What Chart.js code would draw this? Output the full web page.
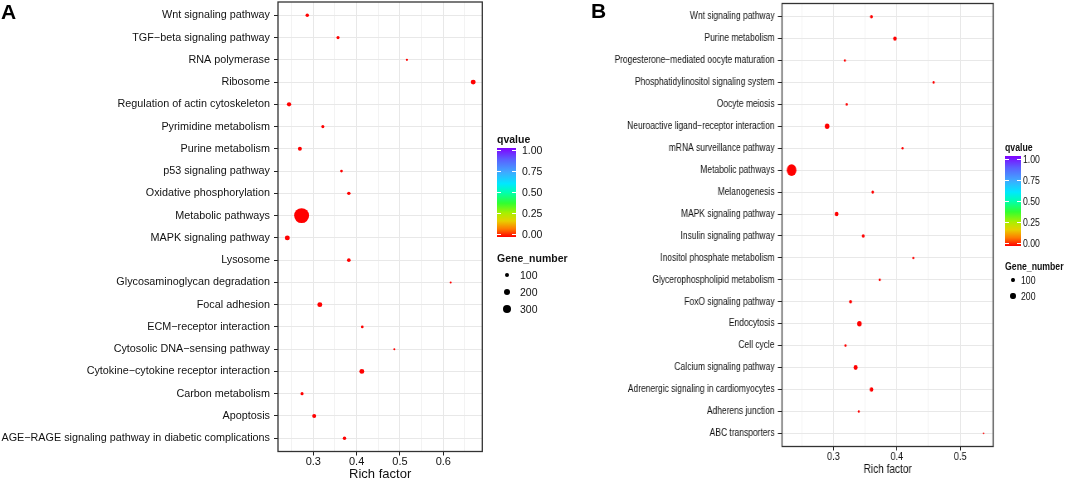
<!DOCTYPE html>
<html>
<head>
<meta charset="utf-8">
<script src="https://cdn.jsdelivr.net/npm/chart.js@4.4.1/dist/chart.umd.min.js"></script>
<style>
  body { margin: 0; background: #fff; width: 1065px; height: 481px; overflow: hidden; position: relative; font-family: 'Liberation Sans', Arial, sans-serif; color: #111; }
  canvas { position: absolute; top: 0; }
  #chartA { left: 0; }
  /* panel B of the figure is horizontally squeezed, like a narrow font */
  #chartB { left: 560px; transform: scaleX(0.83); transform-origin: 0 0; }
  .tag { position: absolute; font-weight: bold; font-size: 21px; line-height: 21px; color: #000; }
  .lg { position: absolute; white-space: nowrap; transform: translateY(-50%); line-height: 1; }
  .lg.b { transform: translateY(-50%) scaleX(0.83); transform-origin: 0 50%; }
  .bar { position: absolute; background: linear-gradient(to top, #ff0000 0%, #ff7a00 9%, #e8d000 18%, #a8f000 27%, #30ff30 38%, #00ffb0 50%, #00e8ff 60%, #40a8ff 73%, #5a60ff 87%, #8000ff 100%); }
  .mark { position: absolute; height: 1px; background: #fff; }
  .dot { position: absolute; background: #000; border-radius: 50%; }
</style>
</head>
<body>
<canvas id="chartA" width="560" height="481"></canvas>
<canvas id="chartB" width="608" height="481"></canvas>
<div class="tag" style="left:1px; top:1px;">A</div>
<div class="tag" style="left:591px; top:0px;">B</div>
<div id="legendA"></div>
<div id="legendB"></div>
<script>
// panel A
const pathwaysA = ['Wnt signaling pathway', 'TGF\u2212beta signaling pathway', 'RNA polymerase', 'Ribosome',
  'Regulation of actin cytoskeleton', 'Pyrimidine metabolism', 'Purine metabolism', 'p53 signaling pathway',
  'Oxidative phosphorylation', 'Metabolic pathways', 'MAPK signaling pathway', 'Lysosome',
  'Glycosaminoglycan degradation', 'Focal adhesion', 'ECM\u2212receptor interaction', 'Cytosolic DNA\u2212sensing pathway',
  'Cytokine\u2212cytokine receptor interaction', 'Carbon metabolism', 'Apoptosis',
  'AGE\u2212RAGE signaling pathway in diabetic complications'];
const richA = [0.286, 0.357, 0.516, 0.669, 0.244, 0.322, 0.269, 0.365, 0.382, 0.273,
  0.240, 0.382, 0.617, 0.315, 0.413, 0.487, 0.412, 0.274, 0.302, 0.372];
const genesA = [85, 75, 55, 130, 110, 75, 100, 65, 85, 680,
  130, 90, 50, 130, 65, 50, 130, 75, 100, 85];
const xTicksA = [0.3, 0.4, 0.5, 0.6];
const sizeBreaksA = [100, 200, 300];

// panel B
const pathwaysB = ['Wnt signaling pathway', 'Purine metabolism', 'Progesterone\u2212mediated oocyte maturation',
  'Phosphatidylinositol signaling system', 'Oocyte meiosis', 'Neuroactive ligand\u2212receptor interaction',
  'mRNA surveillance pathway', 'Metabolic pathways', 'Melanogenesis', 'MAPK signaling pathway',
  'Insulin signaling pathway', 'Inositol phosphate metabolism', 'Glycerophospholipid metabolism',
  'FoxO signaling pathway', 'Endocytosis', 'Cell cycle', 'Calcium signaling pathway',
  'Adrenergic signaling in cardiomyocytes', 'Adherens junction', 'ABC transporters'];
const richB = [0.360, 0.397, 0.318, 0.458, 0.321, 0.290, 0.409, 0.234, 0.362, 0.305,
  0.347, 0.426, 0.373, 0.327, 0.341, 0.319, 0.335, 0.360, 0.340, 0.537];
const genesB = [85, 110, 60, 65, 65, 150, 60, 450, 75, 120,
  85, 60, 65, 90, 150, 65, 130, 110, 60, 45];
const xTicksB = [0.3, 0.4, 0.5];
const sizeBreaksB = [100, 200];

const qTicks = [0, 0.25, 0.5, 0.75, 1];

const SQUEEZE = 0.83;

// dot radius in px from gene count
function sizeOf(n) {
  return Math.max(0.9, 0.34 * Math.sqrt(n) - 1.4);
}

const frame = {
  id: 'frame',
  afterDraw(chart) {
    const a = chart.chartArea, c = chart.ctx;
    c.save();
    c.strokeStyle = '#333';
    c.lineWidth = 1.3;
    c.strokeRect(a.left, a.top, a.right - a.left, a.bottom - a.top);
    c.restore();
  }
};

const isMajor = v => Math.abs(v * 10 - Math.round(v * 10)) < 1e-6;

function noMargins(ax) {
  ax.paddingTop = 0; ax.paddingBottom = 0; ax.paddingLeft = 0; ax.paddingRight = 0;
}

function makeChart(id, o) {
  const n = o.labels.length;
  return new Chart(document.getElementById(id), {
    type: 'scatter',
    data: {
      datasets: [{
        data: o.rich.map((x, i) => ({ x: x, y: i })),
        pointRadius: ctx => sizeOf(o.genes[ctx.dataIndex]),
        pointHoverRadius: ctx => sizeOf(o.genes[ctx.dataIndex]),
        backgroundColor: '#ff0000',
        borderWidth: 0
      }]
    },
    options: {
      responsive: false,
      animation: false,
      events: [],
      layout: { autoPadding: false, padding: { top: o.top, right: o.right, bottom: 0, left: 0 } },
      plugins: { legend: { display: false }, tooltip: { enabled: false } },
      scales: {
        x: {
          type: 'linear',
          min: o.xMin,
          max: o.xMax,
          afterBuildTicks: ax => {
            const minor = o.xTicks.map(v => v - 0.05).concat([o.xTicks[o.xTicks.length - 1] + 0.05])
              .filter(v => v > o.xMin && v < o.xMax);
            ax.ticks = o.xTicks.concat(minor).sort((a, b) => a - b).map(v => ({ value: v }));
          },
          afterFit: ax => { ax.height = 481 - o.bottom; noMargins(ax); },
          border: { display: false },
          grid: {
            color: ctx => isMajor(ctx.tick.value) ? '#e8e8e8' : '#f3f3f3',
            tickColor: ctx => isMajor(ctx.tick.value) ? '#222' : 'rgba(0,0,0,0)',
            tickLength: 4,
            lineWidth: 1
          },
          ticks: {
            autoSkip: false,
            maxRotation: 0,
            padding: o.xPad,
            color: '#111',
            font: { family: o.font, size: o.tickSize },
            callback: v => isMajor(v) ? v.toFixed(1) : ''
          },
          title: {
            display: true,
            text: 'Rich factor',
            color: '#111',
            font: { family: o.font, size: o.titleSize, lineHeight: 1 },
            padding: { top: 0, bottom: o.titlePad }
          }
        },
        y: {
          type: 'linear',
          reverse: true,
          min: -0.6,
          max: n - 0.4,
          afterBuildTicks: ax => { ax.ticks = o.labels.map((_, i) => ({ value: i })); },
          afterFit: ax => { ax.width = o.left; noMargins(ax); },
          border: { display: false },
          grid: { color: '#e8e8e8', tickColor: '#222', tickLength: o.yTick, lineWidth: 1 },
          ticks: {
            autoSkip: false,
            padding: 4,
            color: '#111',
            font: { family: o.font, size: o.labelSize },
            callback: v => o.labels[v]
          }
        }
      }
    },
    plugins: [frame]
  });
}

makeChart('chartA', {
  labels: pathwaysA, rich: richA, genes: genesA, xTicks: xTicksA,
  xMin: 0.2185, xMax: 0.690, left: 278, right: 560 - 482.3, top: 2, bottom: 451.5,
  font: "'Liberation Sans', Arial, sans-serif", labelSize: 10.8, tickSize: 11, titleSize: 13,
  xPad: 0, titlePad: 0, yTick: 4
});

// B canvas is drawn wider and squeezed by SQUEEZE, so x geometry is given in canvas units
makeChart('chartB', {
  labels: pathwaysB, rich: richB, genes: genesB, xTicks: xTicksB,
  xMin: 0.2189, xMax: 0.5522, left: (782 - 560) / SQUEEZE, right: 608 - (993.3 - 560) / SQUEEZE,
  top: 3.5, bottom: 446.5,
  font: "'Liberation Sans', Arial, sans-serif", labelSize: 10.2, tickSize: 11, titleSize: 12.2,
  xPad: 0, titlePad: 5, yTick: 5
});

// legends (qvalue colour bar + Gene_number sizes)
function buildLegend(el, o) {
  let h = '';
  const cls = o.sx < 1 ? 'lg b' : 'lg';
  h += `<div class="${cls}" style="left:${o.x}px; top:${o.qTitleY}px; font-weight:bold; font-size:${o.titleSize}px;">qvalue</div>`;
  h += `<div class="bar" style="left:${o.x}px; top:${o.barTop}px; width:${o.barW}px; height:${o.barBottom - o.barTop}px;"></div>`;
  qTicks.forEach(v => {
    const y = o.q1Y + (1 - v) * (o.q0Y - o.q1Y);
    h += `<div class="mark" style="left:${o.x}px; top:${y - 0.5}px; width:4px;"></div>`;
    h += `<div class="mark" style="left:${o.x + o.barW - 4}px; top:${y - 0.5}px; width:4px;"></div>`;
    h += `<div class="${cls}" style="left:${o.labelX}px; top:${y}px; font-size:${o.textSize}px;">${v.toFixed(2)}</div>`;
  });
  h += `<div class="${cls}" style="left:${o.x}px; top:${o.gTitleY}px; font-weight:bold; font-size:${o.titleSize}px;">Gene_number</div>`;
  o.breaks.forEach((b, i) => {
    const r = sizeOf(b), y = o.dotY[i];
    h += `<div class="dot" style="left:${o.dotX - r * o.sx}px; top:${y - r}px; width:${2 * r * o.sx}px; height:${2 * r}px;"></div>`;
    h += `<div class="${cls}" style="left:${o.labelX - 2}px; top:${y}px; font-size:${o.textSize}px;">${b}</div>`;
  });
  el.innerHTML = h;
}

buildLegend(document.getElementById('legendA'), {
  sx: 1, x: 497, qTitleY: 139, barTop: 147.5, barBottom: 236.5, barW: 19,
  q1Y: 150, q0Y: 234, labelX: 522, textSize: 10.5, titleSize: 10.5,
  gTitleY: 258, breaks: sizeBreaksA, dotX: 507, dotY: [275, 292, 309]
});

buildLegend(document.getElementById('legendB'), {
  sx: SQUEEZE, x: 1005, qTitleY: 147, barTop: 156, barBottom: 246, barW: 15.5,
  q1Y: 159, q0Y: 243, labelX: 1023, textSize: 10.5, titleSize: 10.5,
  gTitleY: 266, breaks: sizeBreaksB, dotX: 1013, dotY: [280, 296]
});
</script>
</body>
</html>
